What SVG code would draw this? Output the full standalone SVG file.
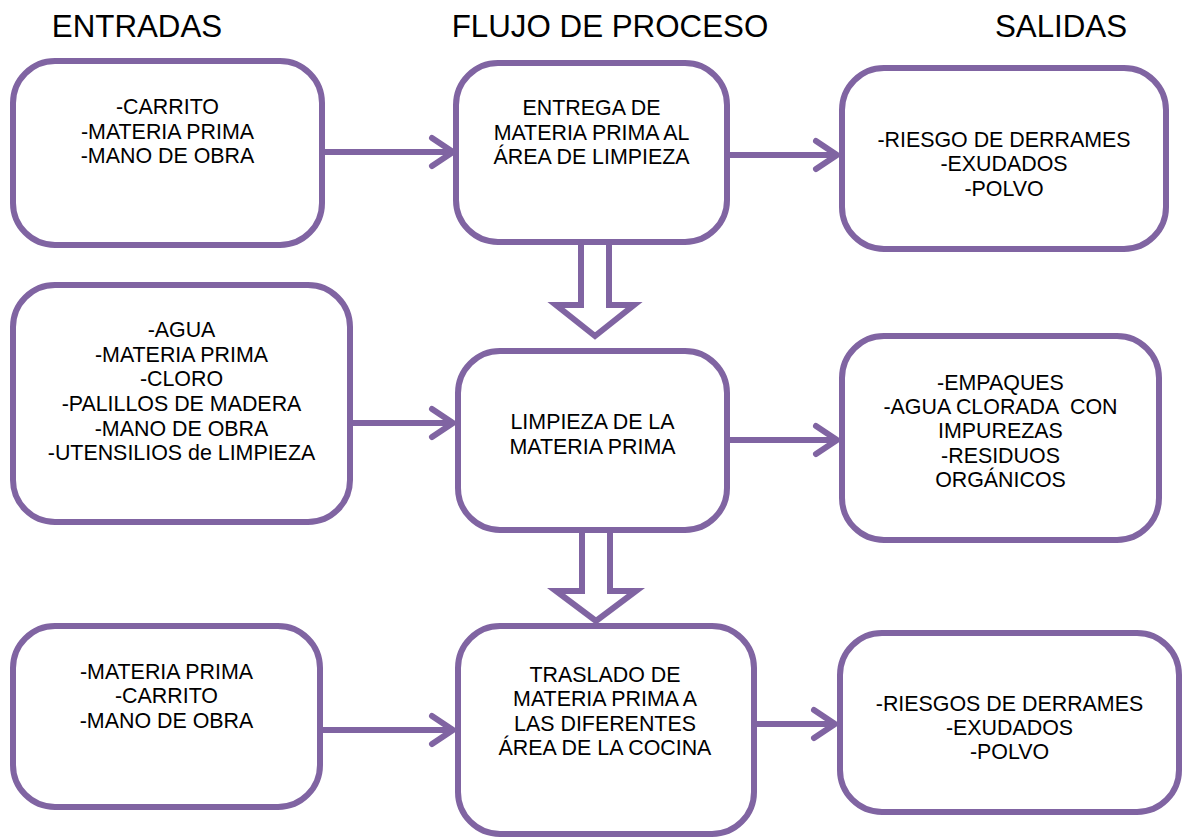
<svg xmlns="http://www.w3.org/2000/svg" width="1185" height="840" viewBox="0 0 1185 840">
<style>
.box{fill:#fff;stroke:#8064A2;stroke-width:6}
.ln{fill:none;stroke:#8064A2;stroke-width:6;stroke-linecap:round;stroke-linejoin:round}
.blk{fill:#fff;stroke:#8064A2;stroke-width:6;stroke-linejoin:miter}
text{font-family:"Liberation Sans",Arial,sans-serif;fill:#000;text-anchor:middle}
.t{font-size:21.4px}
.h{font-size:31.3px}
</style>
<rect width="1185" height="840" fill="#fff"/>
<g id="headers">
<text class="h" x="137" y="37">ENTRADAS</text>
<text class="h" x="610" y="37">FLUJO DE PROCESO</text>
<text class="h" x="1061" y="37">SALIDAS</text>
</g>
<g id="connectors">
<path class="ln" d="M322 152H452M432 138L453 152L432 166"/>
<path class="ln" d="M350 423H452M432 409L453 423L432 437"/>
<path class="ln" d="M320 730H452M432 716L453 730L432 744"/>
<path class="ln" d="M727 155H836M816 141L837 155L816 169"/>
<path class="ln" d="M727 440H836M816 426L837 440L816 454"/>
<path class="ln" d="M754 724H834M814 710L835 724L814 738"/>
<polygon class="blk" points="581,242 581,305 556,305 595,336 634,305 609,305 609,242"/>
<polygon class="blk" points="582,530 582,591 556,591 596,621 636,591 610,591 610,530"/>
</g>
<g id="in1"><rect class="box" x="13" y="61" width="309" height="184" rx="42"/>
<text class="t"><tspan x="167.5" y="114">-CARRITO</tspan><tspan x="167.5" y="139">-MATERIA PRIMA</tspan><tspan x="167.5" y="163">-MANO DE OBRA</tspan></text></g>
<g id="proc1"><rect class="box" x="456" y="63" width="271" height="179" rx="42"/>
<text class="t"><tspan x="591.5" y="115">ENTREGA DE</tspan><tspan x="591.5" y="140">MATERIA PRIMA AL</tspan><tspan x="591.5" y="164">ÁREA DE LIMPIEZA</tspan></text></g>
<g id="out1"><rect class="box" x="842" y="68" width="324" height="181" rx="42"/>
<text class="t"><tspan x="1004" y="147">-RIESGO DE DERRAMES</tspan><tspan x="1004" y="171">-EXUDADOS</tspan><tspan x="1004" y="196">-POLVO</tspan></text></g>
<g id="in2"><rect class="box" x="13" y="285" width="337" height="237" rx="42"/>
<text class="t"><tspan x="181.5" y="337">-AGUA</tspan><tspan x="181.5" y="362">-MATERIA PRIMA</tspan><tspan x="181.5" y="386">-CLORO</tspan><tspan x="181.5" y="411">-PALILLOS DE MADERA</tspan><tspan x="181.5" y="436">-MANO DE OBRA</tspan><tspan x="181.5" y="460">-UTENSILIOS de LIMPIEZA</tspan></text></g>
<g id="proc2"><rect class="box" x="458" y="351" width="269" height="179" rx="42"/>
<text class="t"><tspan x="592.5" y="429">LIMPIEZA DE LA</tspan><tspan x="592.5" y="454">MATERIA PRIMA</tspan></text></g>
<g id="out2"><rect class="box" x="842" y="336" width="317" height="204" rx="42"/>
<text class="t" xml:space="preserve"><tspan x="1000.5" y="390">-EMPAQUES</tspan><tspan x="1000.5" y="414">-AGUA CLORADA  CON</tspan><tspan x="1000.5" y="438">IMPUREZAS</tspan><tspan x="1000.5" y="463">-RESIDUOS</tspan><tspan x="1000.5" y="487">ORGÁNICOS</tspan></text></g>
<g id="in3"><rect class="box" x="13" y="626" width="307" height="181" rx="42"/>
<text class="t"><tspan x="166.5" y="679">-MATERIA PRIMA</tspan><tspan x="166.5" y="703">-CARRITO</tspan><tspan x="166.5" y="728">-MANO DE OBRA</tspan></text></g>
<g id="proc3"><rect class="box" x="458" y="626" width="296" height="208" rx="42"/>
<text class="t"><tspan x="605" y="682">TRASLADO DE</tspan><tspan x="605" y="706">MATERIA PRIMA A</tspan><tspan x="605" y="731">LAS DIFERENTES</tspan><tspan x="605" y="755">ÁREA DE LA COCINA</tspan></text></g>
<g id="out3"><rect class="box" x="840" y="633" width="339" height="179" rx="42"/>
<text class="t"><tspan x="1009.5" y="711">-RIESGOS DE DERRAMES</tspan><tspan x="1009.5" y="735">-EXUDADOS</tspan><tspan x="1009.5" y="759">-POLVO</tspan></text></g>
</svg>
